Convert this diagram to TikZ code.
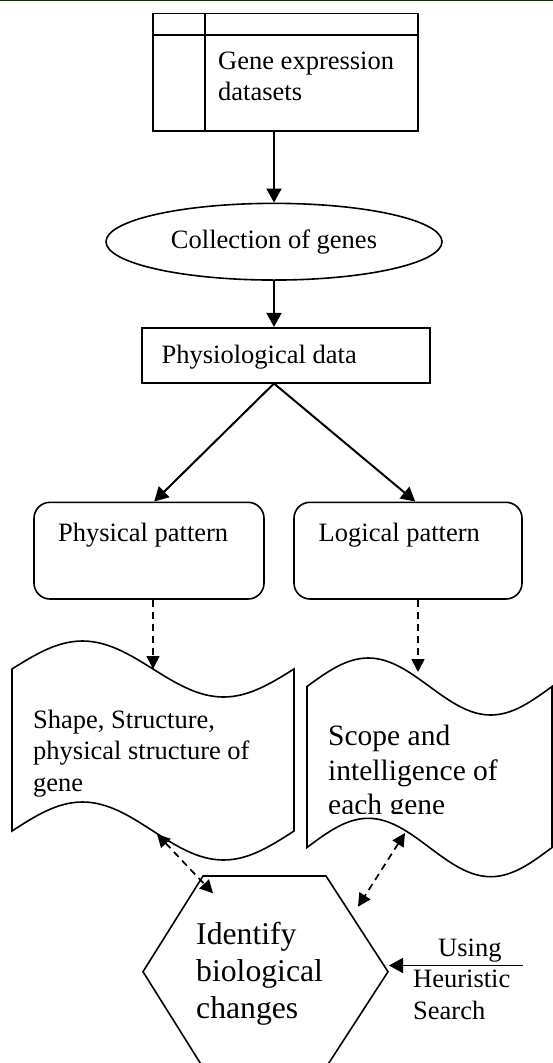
\documentclass[tikz,border=0pt]{standalone}
\usepackage{fontspec}
\setmainfont{Liberation Serif}
\usetikzlibrary{arrows.meta,shapes.geometric,calc}
\definecolor{topgreen}{RGB}{0,51,0}
\newcommand\fsA{\fontsize{26.5}{31.5}\selectfont}
\newcommand\fsB{\fontsize{29.5}{34.5}\selectfont}
\newcommand\fsC{\fontsize{31.7}{37}\selectfont}
\begin{document}
\begin{tikzpicture}[x=1pt,y=-1pt,
  shp/.style={draw,line width=1.6pt},
  arr/.style={line width=2pt,-{Triangle[length=14pt,width=15pt]}},
  darr/.style={line width=1.7pt,dash pattern=on 7pt off 5pt,-{Triangle[length=13pt,width=13pt]}},
  ddarr/.style={line width=1.7pt,dash pattern=on 7pt off 5pt,{Triangle[length=13pt,width=13pt]}-{Triangle[length=13pt,width=13pt]}},
  txt/.style={anchor=base west,align=left,inner sep=0pt,font=\fsA}]
\useasboundingbox (0,0) rectangle (553,1063);
\fill[topgreen] (0,0) rectangle (553,1.4);

% datasets box (multi-line text nodes are anchored at the baseline of their last line)
\node[shp,minimum width=265pt,minimum height=117.5pt,inner sep=0pt] (data) at (285.5,72.25) {};
\draw[line width=1.6pt] ($(data.north west)+(0,22.5)$) -- ($(data.north east)+(0,22.5)$);
\draw[line width=1.6pt] ($(data.north west)+(53,0)$) -- ($(data.south west)+(53,0)$);
\node[txt] (dtxt) at (218,100.5) {Gene expression\\datasets};

% collection
\node[shp,ellipse,minimum width=336pt,minimum height=76.7pt,inner sep=0pt,font=\fsA] (coll) at (274,241.7) {Collection of genes};
\draw[arr] (data.south -| coll.north) -- (coll.north);

% physiological
\node[shp,minimum width=288pt,minimum height=55pt,inner sep=0pt] (phys) at (286,355.2) {};
\node[txt] (phystxt) at (161.5,363.3) {Physiological data};
\draw[arr] (coll.south) -- (coll.south |- phys.north);

% patterns
\node[shp,rounded corners=16pt,minimum width=230pt,minimum height=96.7pt,inner sep=0pt] (ppat) at (149,550.65) {};
\node[shp,rounded corners=16pt,minimum width=228pt,minimum height=96.7pt,inner sep=0pt] (lpat) at (408,550.65) {};
\node[txt] (ptxt) at (58,541.7) {Physical pattern};
\node[txt] (ltxt) at (318.5,541.7) {Logical pattern};
\draw[arr] (phys.south -| coll.south) -- ($(ppat.north west)+(121,0)$);
\draw[arr] (phys.south -| coll.south) -- ($(lpat.north west)+(122,0)$);

% documents
\draw[shp] (12,669) sin (82.5,641) cos (153,669) sin (223.5,697) cos (294,669)
  -- (294,831) sin (223.5,860) cos (153,831) sin (82.5,802) cos (12,831) -- cycle;
\draw[shp] (307,686.5) sin (368.25,658) cos (429.5,686.5) sin (490.75,715) cos (552,686.5)
  -- (552,847.5) sin (490.75,876.7) cos (429.5,847.5) sin (368.25,818.3) cos (307,847.5) -- cycle;
\coordinate (ltop) at (153,669);
\coordinate (rtop) at (418,672);
\coordinate (lbot) at (157,834);
\coordinate (rbot) at (405,833);
\draw[darr] (ppat.south -| ltop) -- (ltop);
\draw[darr] (lpat.south -| rtop) -- (rtop);
\node[txt] (lbody) at (33,791) {Shape, Structure,\\physical structure of\\gene};
\begin{scope}
  \clip (300,650) rectangle (552,813.3);
  \node[txt,font=\fsB] (rbody) at (328,814.7) {Scope and\\intelligence of\\each gene};
\end{scope}

% hexagon
\draw[shp] (203,876) -- (326,876) -- (388,971.7) coordinate (h3) -- (326,1067.4) -- (203,1067.4) -- (143,971.7) -- cycle;
\node[txt,font=\fsC] (hex) at (196,1018) {Identify\\biological\\changes};
\coordinate (hl) at (213,893.3);
\coordinate (hr) at (358,906.7);
\draw[ddarr] (lbot) -- (hl);
\draw[ddarr] (rbot) -- (hr);

% heuristic
\coordinate (hsrc) at (523,965.5);
\coordinate (hin) at (389,965.5);
\draw[arr,line width=1.7pt] (hsrc) -- (hin);
\node[txt] (heur) at (413,1019) {\hspace*{25pt}Using\\Heuristic\\Search};
\end{tikzpicture}
\end{document}
